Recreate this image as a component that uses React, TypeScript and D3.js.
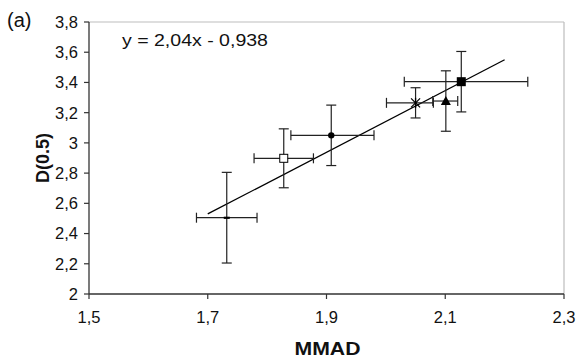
import React from "react";
import * as d3 from "d3";

const mmad = [1.732, 1.828, 1.908, 2.05, 2.101, 2.127];
const d05 = [2.505, 2.898, 3.05, 3.265, 3.277, 3.405];
const xErrLo = [0.051, 0.05, 0.068, 0.049, 0.022, 0.096];
const xErrHi = [0.051, 0.05, 0.072, 0.03, 0.02, 0.112];
const yErr = [0.3, 0.195, 0.2, 0.1, 0.2, 0.2];
const markers = ["dash", "openSquare", "circle", "star", "triangle", "square"];
const xTicks = [1.5, 1.7, 1.9, 2.1, 2.3];
const yTicks = [2, 2.2, 2.4, 2.6, 2.8, 3, 3.2, 3.4, 3.6, 3.8];
const slope = 2.04;
const intercept = -0.938;
const fitRange = [1.7, 2.2];

const W = 582, H = 359;
const M = { left: 89, top: 22, right: 18, bottom: 65 };
const FONT = "'Liberation Sans', Arial, sans-serif";

const fmt = (v: number) => String(Math.round(v * 10) / 10).replace(".", ",");

function Marker({ type, cx, cy }: { type: string; cx: number; cy: number }) {
  const c = "#000";
  switch (type) {
    case "dash":
      return <rect x={cx - 3} y={cy - 1} width={6} height={2.2} fill={c} />;
    case "openSquare":
      return <rect x={cx - 4} y={cy - 4} width={8} height={8} fill="#fff" stroke={c} strokeWidth={1} />;
    case "circle":
      return <circle cx={cx} cy={cy} r={3.2} fill={c} />;
    case "star":
      return (
        <g stroke={c} strokeWidth={1.3}>
          <line x1={cx - 4.5} y1={cy - 4.5} x2={cx + 4.5} y2={cy + 4.5} />
          <line x1={cx - 4.5} y1={cy + 4.5} x2={cx + 4.5} y2={cy - 4.5} />
          <line x1={cx} y1={cy - 5} x2={cx} y2={cy + 5} />
        </g>
      );
    case "triangle":
      return <path d={`M${cx},${cy - 5} L${cx + 5},${cy + 4} L${cx - 5},${cy + 4} Z`} fill={c} />;
    case "square":
      return <rect x={cx - 4.5} y={cy - 4.5} width={9} height={9} fill={c} />;
    default:
      return null;
  }
}

export default function App() {
  const x = d3.scaleLinear().domain([1.5, 2.3]).range([M.left, W - M.right]);
  const y = d3.scaleLinear().domain([2, 3.8]).range([H - M.bottom, M.top]);
  const x0 = M.left, x1 = W - M.right, y0 = H - M.bottom, y1 = M.top;
  const cap = 5;
  const ebColor = "#222";

  return (
    <svg width={W} height={H} style={{ position: "absolute", left: 0, top: 0, background: "#fff" }}>
      <line x1={x0} y1={y1} x2={x1} y2={y1} stroke="#bdbdbd" strokeWidth={1.2} />
      <line x1={x1} y1={y1} x2={x1} y2={y0} stroke="#bdbdbd" strokeWidth={1.2} />
      <line x1={x0} y1={y0} x2={x1} y2={y0} stroke="#333" strokeWidth={1.3} />
      <line x1={x0} y1={y0} x2={x0} y2={y1} stroke="#333" strokeWidth={1.3} />
      {yTicks.map((t) => (
        <g key={"y" + t}>
          <line x1={x0 - 5} x2={x0} y1={y(t)} y2={y(t)} stroke="#333" strokeWidth={1.2} />
          <text x={x0 - 11} y={y(t)} dy="0.36em" textAnchor="end" fontFamily={FONT} fontSize={16.5} fill="#111">
            {fmt(t)}
          </text>
        </g>
      ))}
      {xTicks.map((t) => (
        <g key={"x" + t}>
          <line x1={x(t)} x2={x(t)} y1={y0} y2={y0 + 5} stroke="#333" strokeWidth={1.2} />
          <text x={x(t)} y={y0 + 29} textAnchor="middle" fontFamily={FONT} fontSize={16.5} fill="#111">
            {fmt(t)}
          </text>
        </g>
      ))}
      <line
        x1={x(fitRange[0])}
        y1={y(slope * fitRange[0] + intercept)}
        x2={x(fitRange[1])}
        y2={y(slope * fitRange[1] + intercept)}
        stroke="#000"
        strokeWidth={1.3}
      />
      {mmad.map((m, i) => {
        const cx = x(m), cy = y(d05[i]);
        const xl = x(m - xErrLo[i]), xr = x(m + xErrHi[i]);
        const yt = y(d05[i] + yErr[i]), yb = y(d05[i] - yErr[i]);
        return (
          <g key={"e" + i} stroke={ebColor} strokeWidth={1.2}>
            <line x1={xl} x2={xr} y1={cy} y2={cy} />
            <line x1={xl} x2={xl} y1={cy - cap} y2={cy + cap} />
            <line x1={xr} x2={xr} y1={cy - cap} y2={cy + cap} />
            <line x1={cx} x2={cx} y1={yt} y2={yb} />
            <line x1={cx - cap} x2={cx + cap} y1={yt} y2={yt} />
            <line x1={cx - cap} x2={cx + cap} y1={yb} y2={yb} />
          </g>
        );
      })}
      {mmad.map((m, i) => (
        <Marker key={"m" + i} type={markers[i]} cx={x(m)} cy={y(d05[i])} />
      ))}
      <text x={122} y={46} fontFamily={FONT} fontSize={17} textLength={146} lengthAdjust="spacingAndGlyphs" fill="#111">
        y = 2,04x - 0,938
      </text>
      <text x={7} y={27} fontFamily={FONT} fontSize={20} fill="#111">
        (a)
      </text>
      <text
        transform={`translate(49,${(y0 + y1) / 2}) rotate(-90)`}
        textAnchor="middle"
        fontFamily={FONT}
        fontSize={18}
        fontWeight="bold"
        fill="#111"
      >
        D(0.5)
      </text>
      <text x={(x0 + x1) / 2 + 1} y={355} textAnchor="middle" fontFamily={FONT} fontSize={19} fontWeight="bold" fill="#111" textLength={66} lengthAdjust="spacingAndGlyphs">
        MMAD
      </text>
    </svg>
  );
}
